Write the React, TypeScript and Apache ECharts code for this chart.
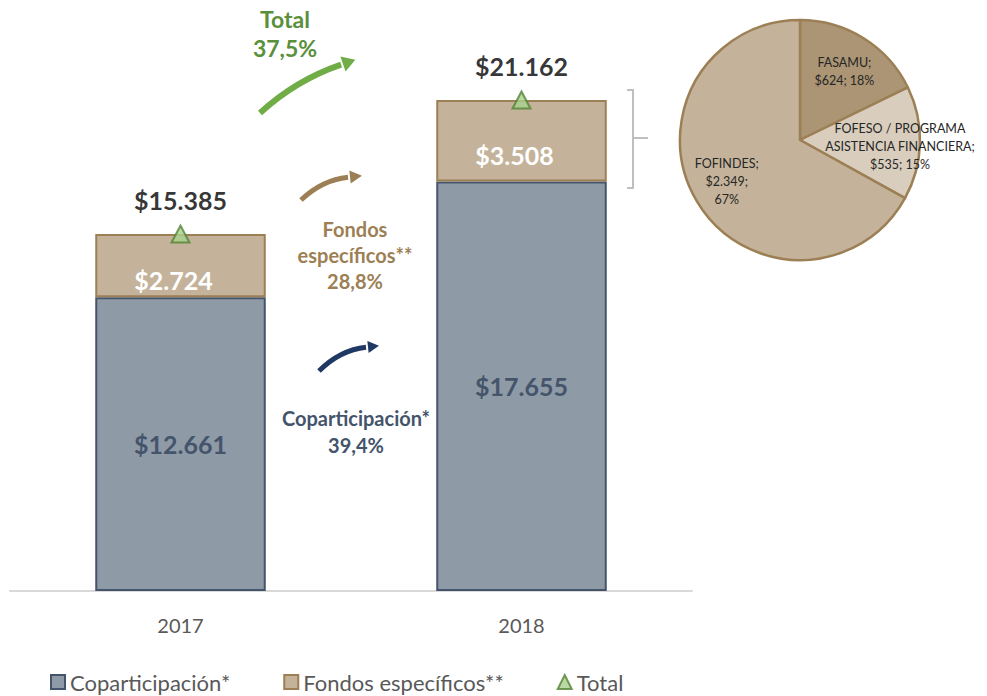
import React, { useEffect, useRef } from "react";
import * as echarts from "echarts";

const years = ["2017", "2018"];
const coparticipacion = [12661, 17655];
const fondosEspecificos = [2724, 3508];
const totals = [15385, 21162];

const pieNames = ["FASAMU", "FOFESO / PROGRAMA\nASISTENCIA FINANCIERA", "FOFINDES"];
const pieValues = [624, 535, 2349];

const FONT = "Lato, 'Noto Sans', sans-serif";

const fmt = (n: number) => "$" + String(Math.round(n)).replace(/\B(?=(\d{3})+(?!\d))/g, ".");
const pct = (a: number, b: number) => ((b / a - 1) * 100).toFixed(1).replace(".", ",") + "%";

function arrow(
  x0: number, y0: number, cx: number, cy: number, x1: number, y1: number,
  color: string, width: number, headLen: number, headW: number
) {
  const dx = x1 - cx, dy = y1 - cy;
  const L = Math.sqrt(dx * dx + dy * dy);
  const ux = dx / L, uy = dy / L;
  const px = -uy, py = ux;
  const tip = [x1 + ux * headLen, y1 + uy * headLen];
  return {
    type: "group",
    children: [
      {
        type: "bezierCurve",
        shape: { x1: x0, y1: y0, cpx1: cx, cpy1: cy, x2: x1 - ux * 2, y2: y1 - uy * 2 },
        style: { stroke: color, lineWidth: width, fill: null, lineCap: "butt" },
      },
      {
        type: "polygon",
        shape: {
          points: [tip, [x1 + px * headW / 2, y1 + py * headW / 2], [x1 - px * headW / 2, y1 - py * headW / 2]],
        },
        style: { fill: color },
      },
    ],
  };
}

export default function App() {
  const ref = useRef<HTMLDivElement>(null);
  useEffect(() => {
    if (!ref.current) return;
    const chart = echarts.init(ref.current, null, { renderer: "svg" });
    const pieFmt = (p: any) => {
      const i = p.dataIndex;
      const v = fmt(p.value);
      const d = Math.round(p.percent) + "%";
      if (i === 2) return `${p.name};\n${v};\n${d}`;
      return `${p.name};\n${v}; ${d}`;
    };
    const pieShift = [
      [11, -15],
      [37, 5],
      [-19, 9],
    ];
    const option: any = {
      animation: false,
      textStyle: { fontFamily: FONT },
      grid: { left: 10, right: 295, top: 11, bottom: 105, outerBoundsMode: "none", containLabel: false },
      xAxis: {
        type: "category",
        data: years,
        axisLine: { lineStyle: { color: "#d9d9d9", width: 2 } },
        axisTick: { show: false },
        axisLabel: { color: "#595959", fontSize: 20, margin: 24, fontFamily: FONT },
      },
      yAxis: { type: "value", min: 0, max: 25000, show: false, splitLine: { show: false } },
      legend: {
        left: 50,
        top: 670,
        itemWidth: 14,
        itemHeight: 14,
        itemGap: 53,
        padding: 0,
        textStyle: { color: "#595959", fontSize: 22, lineHeight: 24, fontFamily: FONT },
        data: [
          { name: "Coparticipación*", icon: "rect" },
          { name: "Fondos específicos**", icon: "rect" },
          { name: "Total", icon: "triangle" },
        ],
      },
      series: [
        {
          name: "Coparticipación*",
          type: "bar",
          stack: "a",
          barWidth: "50%",
          data: coparticipacion,
          itemStyle: { color: "#8f9aa7", borderColor: "#44546a", borderWidth: 2 },
          label: {
            show: true,
            position: "inside",
            formatter: (p: any) => fmt(p.value),
            color: "#44546a",
            fontWeight: "bold",
            fontSize: 25,
            fontFamily: FONT,
          },
        },
        {
          name: "Fondos específicos**",
          type: "bar",
          stack: "a",
          barWidth: "50%",
          data: fondosEspecificos,
          itemStyle: { color: "#c4b39a", borderColor: "#9c7f55", borderWidth: 2 },
          label: {
            show: true,
            position: "inside",
            offset: [-7, 14],
            formatter: (p: any) => fmt(p.value),
            color: "#ffffff",
            fontWeight: "bold",
            fontSize: 25,
            fontFamily: FONT,
          },
        },
        {
          name: "Total",
          type: "scatter",
          data: totals,
          symbol: "triangle",
          symbolSize: [18, 17],
          itemStyle: { color: "#a9d18e", borderColor: "#548235", borderWidth: 2 },
          label: {
            show: true,
            position: "top",
            distance: 12,
            formatter: (p: any) => fmt(p.value),
            color: "#000000",
            fontWeight: "bold",
            fontSize: 25,
            fontFamily: FONT,
          },
          z: 5,
        },
        {
          name: "Detalle",
          type: "pie",
          center: [800, 140],
          radius: 120,
          startAngle: 90,
          clockwise: true,
          percentPrecision: 0,
          data: pieNames.map((n, i) => ({ name: n, value: pieValues[i] })),
          color: ["#ab9574", "#d9cdbd", "#c4b39a"],
          itemStyle: { borderColor: "#9c7f55", borderWidth: 2.5 },
          label: {
            show: true,
            position: "inside",
            formatter: pieFmt,
            color: "#262626",
            fontSize: 12.5,
            lineHeight: 18,
            fontFamily: FONT,
            align: "center",
          },
          labelLine: { show: false },
          labelLayout: (p: any) => ({ dx: pieShift[p.dataIndex][0], dy: pieShift[p.dataIndex][1] }),
          emphasis: { disabled: true },
        },
      ],
      graphic: [
        arrow(260, 113, 296, 80, 343, 64, "#70ad47", 6, 13, 16),
        arrow(301, 200, 322, 180, 350, 177, "#9c7f55", 5, 12, 13),
        arrow(319, 371, 340, 350, 368, 347, "#1f3864", 5, 11, 12),
        {
          type: "polyline",
          shape: { points: [[627, 90], [633, 90], [633, 188], [627, 188]] },
          style: { stroke: "#bfbfbf", lineWidth: 2, fill: null },
        },
        {
          type: "line",
          shape: { x1: 633, y1: 138, x2: 648, y2: 138 },
          style: { stroke: "#bfbfbf", lineWidth: 2 },
        },
        {
          type: "text",
          x: 285,
          y: 33,
          style: {
            text: "Total\n" + pct(totals[0], totals[1]),
            fill: "#5a8f3c",
            font: `bold 23px ${FONT}`,
            align: "center",
            verticalAlign: "middle",
            lineHeight: 29,
          },
        },
        {
          type: "text",
          x: 355,
          y: 255,
          style: {
            text: "Fondos\nespecíficos**\n" + pct(fondosEspecificos[0], fondosEspecificos[1]),
            fill: "#9c7f55",
            font: `bold 20px ${FONT}`,
            align: "center",
            verticalAlign: "middle",
            lineHeight: 26,
          },
        },
        {
          type: "text",
          x: 356,
          y: 431,
          style: {
            text: "Coparticipación*\n" + pct(coparticipacion[0], coparticipacion[1]),
            fill: "#44546a",
            font: `bold 20px ${FONT}`,
            align: "center",
            verticalAlign: "middle",
            lineHeight: 27,
          },
        },
      ],
    };
    chart.setOption(option);
    return () => chart.dispose();
  }, []);
  return (
    <div
      ref={ref}
      style={{ position: "fixed", left: 0, top: 0, width: 987, height: 696, background: "#ffffff" }}
    />
  );
}
